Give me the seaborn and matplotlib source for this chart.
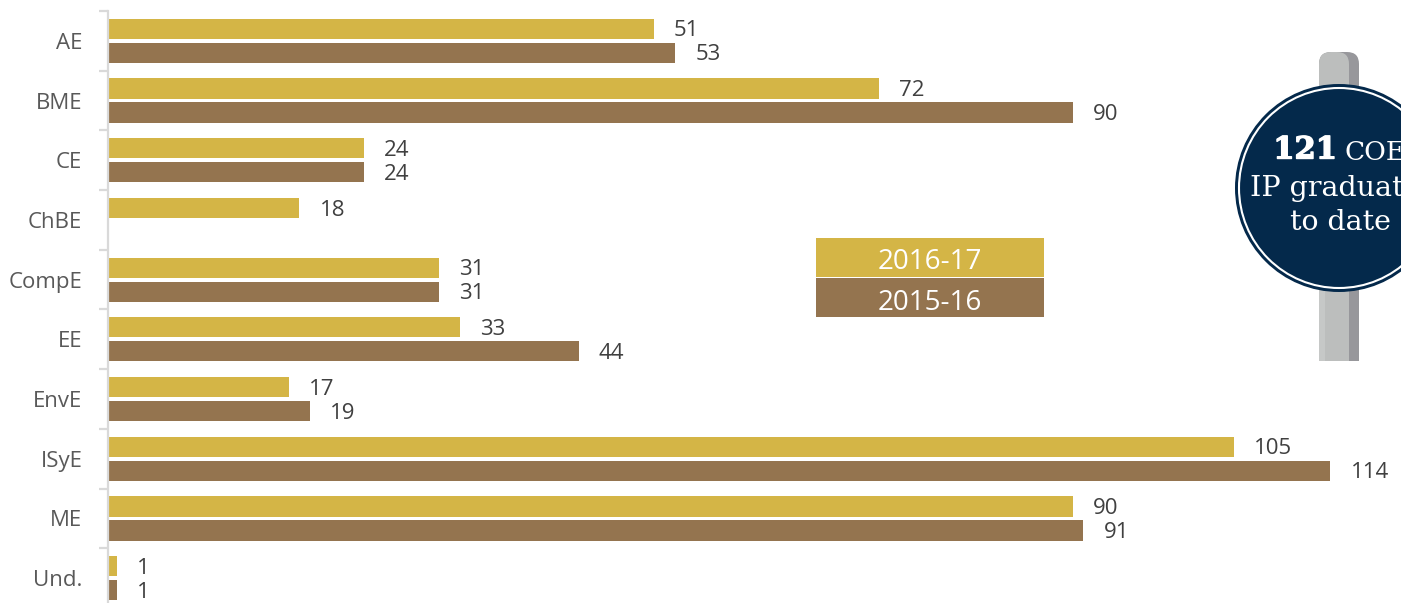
import numpy as np
import pandas as pd
import matplotlib
matplotlib.use("Agg")
import matplotlib.pyplot as plt
import matplotlib.patheffects as pe
from matplotlib.patches import Rectangle, Circle, FancyBboxPatch
import seaborn as sns

categories = ["AE", "BME", "CE", "ChBE", "CompE", "EE", "EnvE", "ISyE", "ME", "Und."]
values_2016_17 = [51, 72, 24, 18, 31, 33, 17, 105, 90, 1]
values_2015_16 = [53, 90, 24, np.nan, 31, 44, 19, 114, 91, 1]
series_names = ["2016-17", "2015-16"]
GOLD, BROWN = "#d4b546", "#94744f"

W, H = 1401, 603
sns.set_theme(style="white")
plt.rcParams["font.family"] = ["Open Sans", "DejaVu Sans"]

df = pd.DataFrame({"dept": categories, series_names[0]: values_2016_17, series_names[1]: values_2015_16})
long = df.melt(id_vars="dept", var_name="year", value_name="count")

fig = plt.figure(figsize=(W / 100, H / 100), dpi=100)
x0, x1, ytop, ybot = 108, 1401, 11, 608
scale = 10.74
ax = fig.add_axes([x0 / W, 1 - ybot / H, (x1 - x0) / W, (ybot - ytop) / H])
sns.barplot(data=long, y="dept", x="count", hue="year", order=categories,
            hue_order=series_names, palette=[GOLD, BROWN], width=0.806, gap=0.16,
            orient="h", legend=False, ax=ax, linewidth=0, saturation=1)
left = 2.0 / scale
ax.set_xlim(left, left + (x1 - x0) / scale)
ax.set_ylim(9.5, -0.5)
ax.set_xlabel("")
ax.set_ylabel("")
ax.xaxis.set_visible(False)
for s in ["top", "right", "bottom"]:
    ax.spines[s].set_visible(False)
ax.spines["left"].set_color("#d9d9d9")
ax.spines["left"].set_linewidth(1.6)
ax.set_yticks(np.arange(-0.5, 9.5), minor=True)
ax.tick_params(axis="y", which="minor", length=6.5, width=1.6, color="#d9d9d9", left=True)
ax.tick_params(axis="y", which="major", length=0, pad=18.5, labelsize=16, labelcolor="#595959")

for c in ax.containers:
    labels = ["" if np.isnan(v) else f"{int(v)}" for v in c.datavalues]
    texts = ax.bar_label(c, labels=labels, padding=14.5, fontsize=16, color="#404040")
    for t in texts:
        t.xyann = (t.xyann[0], t.xyann[1] - 1.5)

# overlay in pixel coordinates for legend and sign
ov = fig.add_axes([0, 0, 1, 1], facecolor="none")
ov.set_xlim(0, W)
ov.set_ylim(H, 0)
ov.axis("off")

ov.add_patch(Rectangle((816, 238), 228, 39, color=GOLD, lw=0))
ov.add_patch(Rectangle((816, 278), 228, 39, color=BROWN, lw=0))
ov.text(930, 262, series_names[0], color="white", fontsize=20, ha="center", va="center")
ov.text(930, 303, series_names[1], color="white", fontsize=20, ha="center", va="center")

# pole
ov.add_patch(FancyBboxPatch((1329, 62), 20, 320, boxstyle="round,pad=10,rounding_size=12",
                            fc="#97979b", lw=0))
ov.add_patch(FancyBboxPatch((1329, 62), 10, 320, boxstyle="round,pad=10,rounding_size=12",
                            fc="#bcbebd", lw=0))
ov.add_patch(Rectangle((1319, 90), 6, 290, color="#c6c8c7", lw=0))
ov.add_patch(Rectangle((1310, 360.5), 60, 50, color="white", lw=0))

# sign
NAVY = "#04294b"
ov.add_patch(Circle((1339, 188), 104, fc=NAVY, lw=0))
ov.add_patch(Circle((1339, 188), 100, fc=NAVY, ec="white", lw=1.5))
serif = ["DejaVu Serif"]
ov.text(1305, 150, "121", color="white", fontsize=22, fontweight="bold", family=serif,
        ha="center", va="center", clip_on=True,
        path_effects=[pe.withStroke(linewidth=1.0, foreground="white")])
ov.text(1344, 152, "COE", color="white", fontsize=19, family=serif, ha="left", va="center", clip_on=True)
ov.text(1343, 188, "IP graduates", color="white", fontsize=20.5, family=serif, ha="center", va="center", clip_on=True)
ov.text(1340, 222, "to date", color="white", fontsize=20.5, family=serif, ha="center", va="center", clip_on=True)

fig.savefig("out.png", dpi=100)
